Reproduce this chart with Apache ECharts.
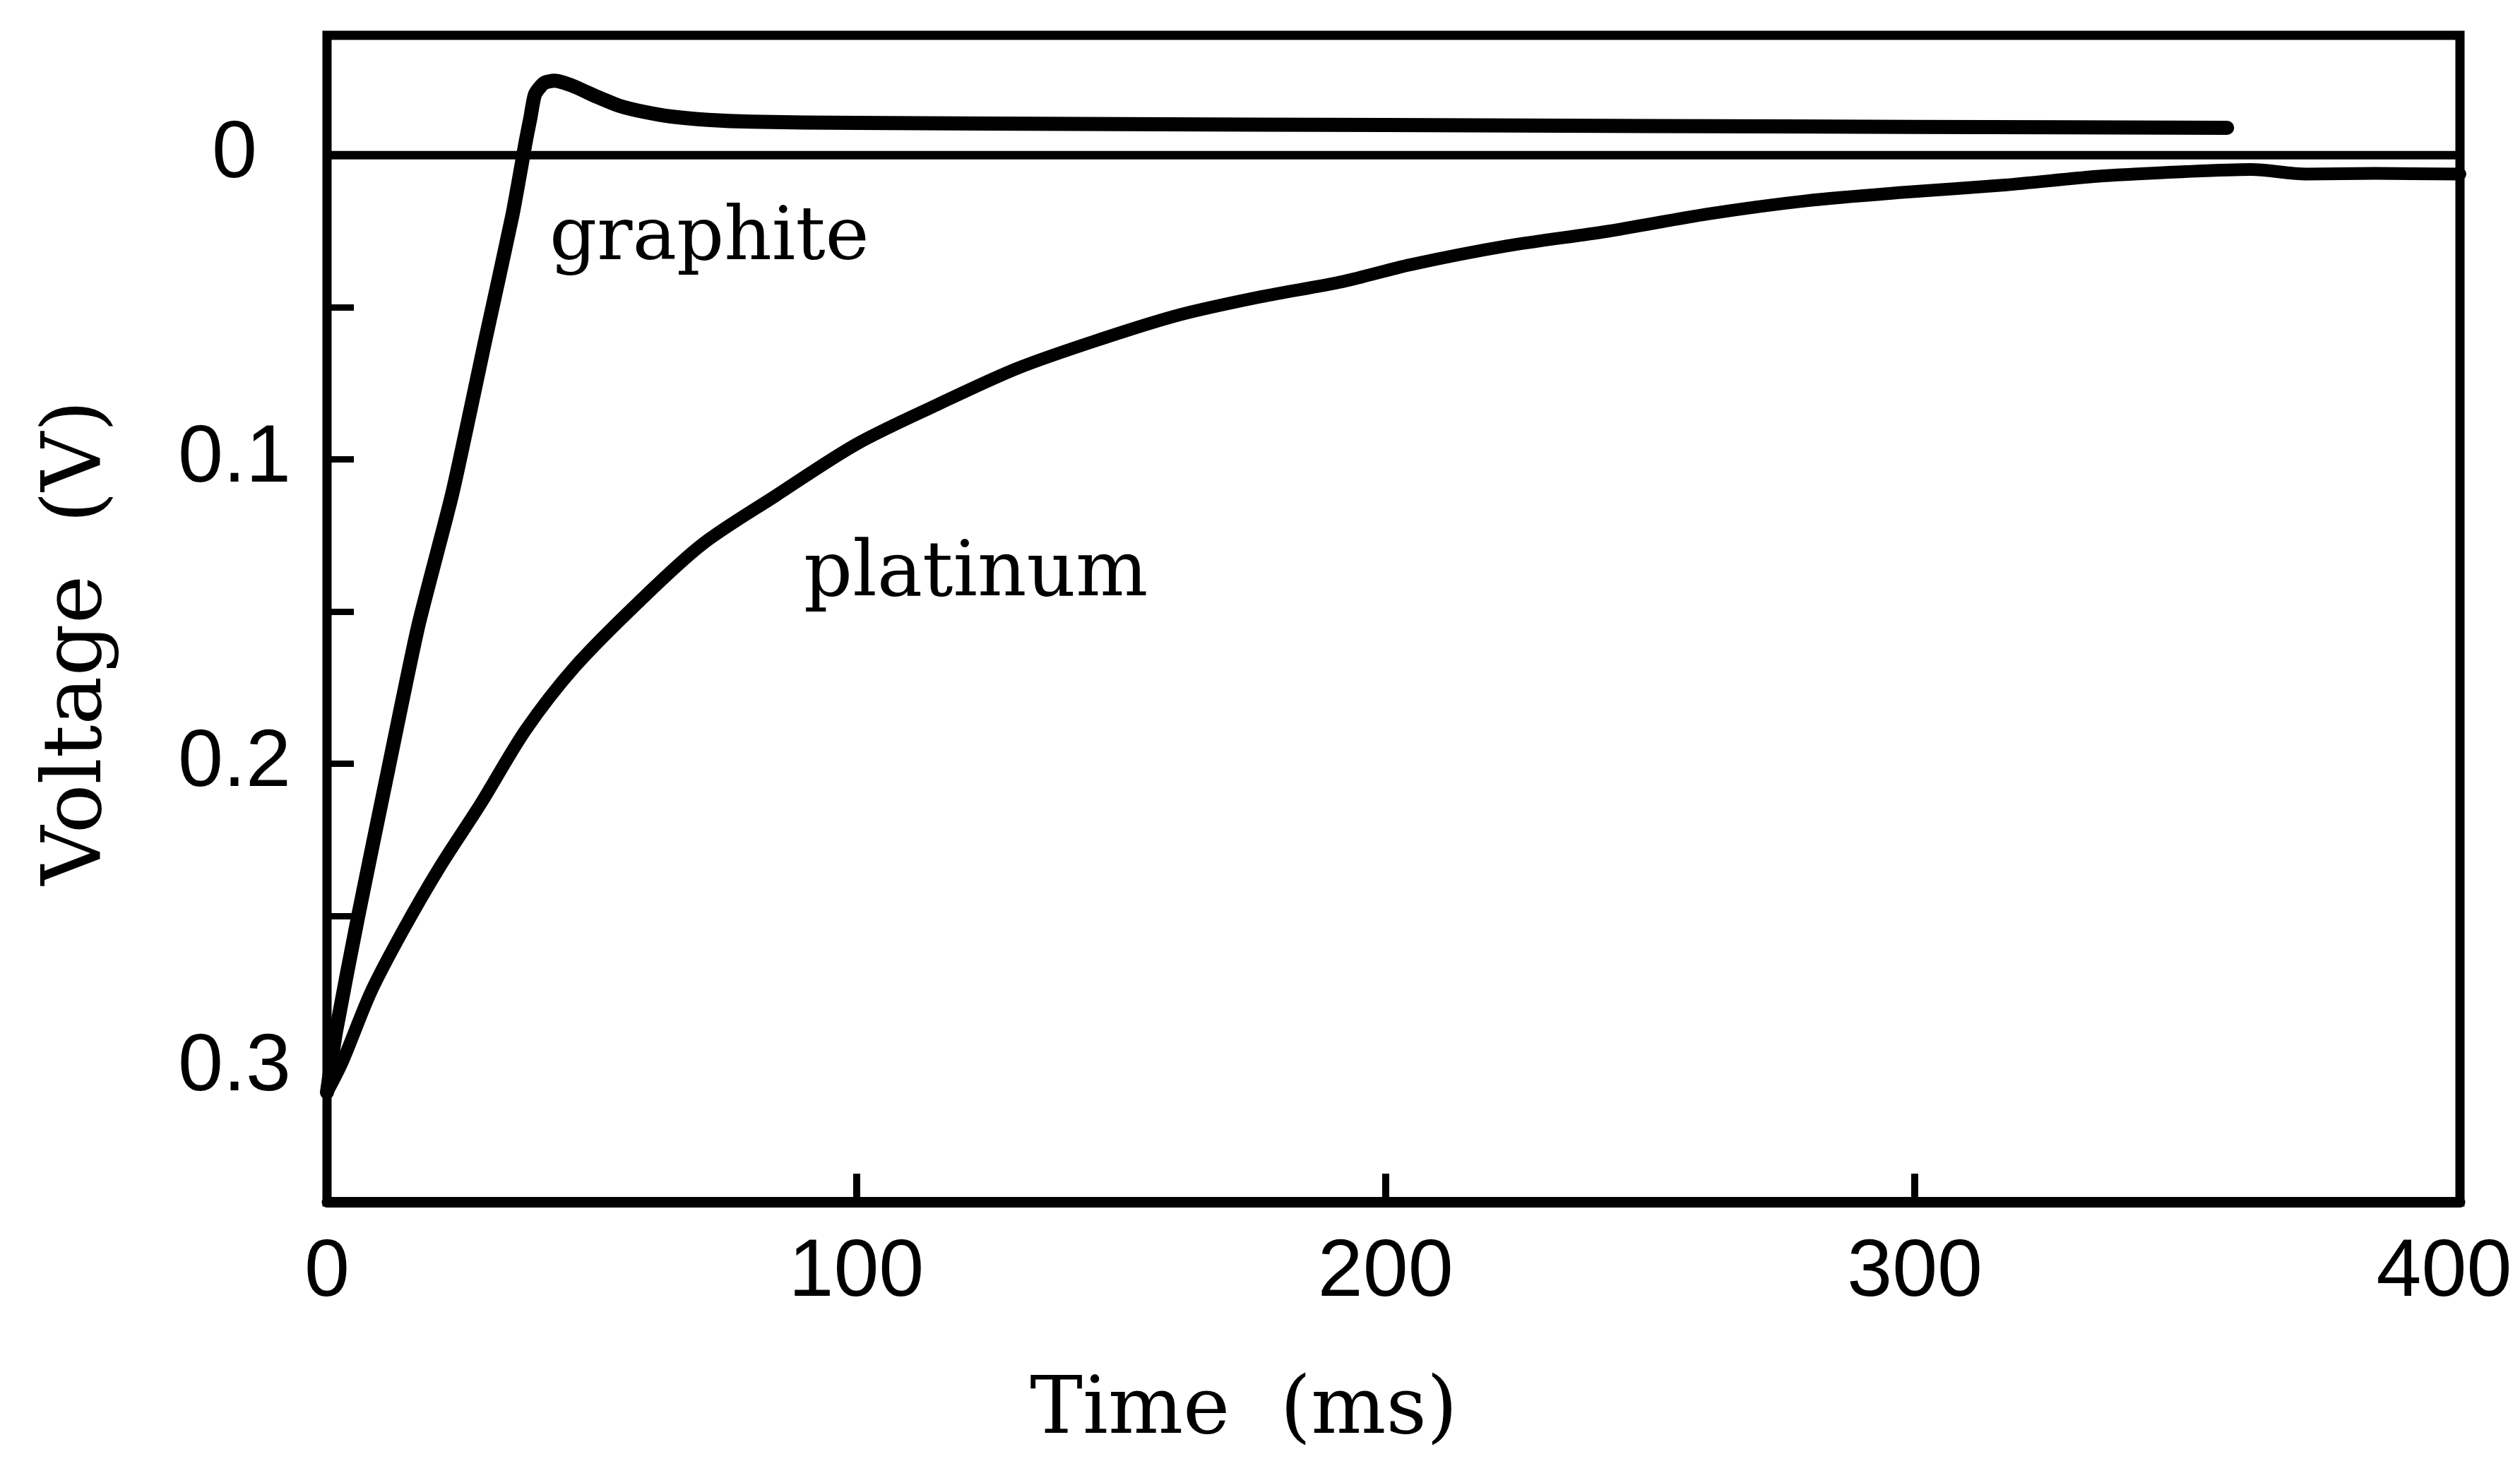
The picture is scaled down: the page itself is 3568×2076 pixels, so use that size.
<!DOCTYPE html>
<html>
<head>
<meta charset="utf-8">
<script src="https://cdn.jsdelivr.net/npm/echarts@6/dist/echarts.min.js"></script>
<style>
  html, body { margin: 0; padding: 0; background: #fff; }
  #chart { width: 3568px; height: 2076px; }
</style>
</head>
<body>
<div id="chart"></div>
<script>
// axis ticks
const timeLabels = [0, 100, 200, 300, 400];
const timeTicks = [100, 200, 300];
const voltageLabels = [0, 0.1, 0.2, 0.3];
const voltageTicks = [0.05, 0.1, 0.15, 0.2, 0.25];

// graphite electrode (ms, V)
const graphiteTime = [0, 1.7, 5.9, 11.2, 17.2, 23.7, 30, 35, 37.6, 38.4, 39.3, 41, 43, 46.4, 51, 55.3, 60, 65, 72, 80, 100, 150, 200, 250, 300, 359];
const graphiteVolt = [0.308, 0.288, 0.25, 0.205, 0.155, 0.111, 0.06, 0.02, -0.005, -0.012, -0.02, -0.0237, -0.0245, -0.0228, -0.0192, -0.0162, -0.0142, -0.0127, -0.0116, -0.011, -0.0106, -0.0102, -0.0099, -0.0096, -0.0093, -0.009];

// platinum electrode (ms, V)
const platinumTime = [0, 2.9, 8.3, 14.3, 21.3, 29.1, 37.5, 46.9, 58.8, 70.8, 84.7, 100, 115.3, 130.5, 145.9, 161, 176.5, 192, 204.7, 223, 242, 261, 279.5, 298, 317, 335.6, 351, 363.5, 374, 387, 403];
const platinumVolt = [0.308, 0.298, 0.275, 0.255, 0.234, 0.213, 0.189, 0.168, 0.147, 0.128, 0.112, 0.095, 0.082, 0.07, 0.0606, 0.0525, 0.0465, 0.0415, 0.036, 0.0298, 0.025, 0.0193, 0.015, 0.0122, 0.0098, 0.0068, 0.0054, 0.0047, 0.0062, 0.006, 0.0062];

// zero reference line
const zeroTime = [0, 403];
const zeroVolt = [0, 0];

const pairs = (xs, ys) => xs.map((x, i) => [x, ys[i]]);

const serif = '"DejaVu Serif", "Liberation Serif", serif';
const sans = '"Liberation Sans", Arial, sans-serif';

const chart = echarts.init(document.getElementById("chart"), null, { renderer: "canvas" });

chart.setOption({
  animation: false,
  backgroundColor: "#fff",
  grid: {
    left: 463, right: 85, top: 50, bottom: 374,
    show: true, borderColor: "#000", borderWidth: 13,
  },
  xAxis: {
    type: "value",
    min: 0,
    max: 403,
    axisLine: { show: true, onZero: false, lineStyle: { color: "#000", width: 15 } },
    axisTick: {
      show: true, inside: true, length: 40, customValues: timeTicks,
      lineStyle: { color: "#000", width: 10 },
    },
    axisLabel: {
      customValues: timeLabels, margin: 44, color: "#000",
      fontFamily: sans, fontSize: 115,
    },
    splitLine: { show: false },
  },
  yAxis: {
    type: "value",
    inverse: true,
    min: -0.0394,
    max: 0.344,
    axisLine: { show: true, onZero: false, lineStyle: { color: "#000", width: 12 } },
    axisTick: {
      show: true, inside: true, length: 38, customValues: voltageTicks,
      lineStyle: { color: "#000", width: 9 },
    },
    axisLabel: {
      customValues: voltageLabels, align: "center", margin: 131, color: "#000",
      fontFamily: sans, fontSize: 115,
      formatter: (v) => String(v),
    },
    splitLine: { show: false },
  },
  series: [
    {
      name: "zero", type: "line", data: pairs(zeroTime, zeroVolt),
      showSymbol: false, silent: true,
      lineStyle: { color: "#000", width: 12 },
    },
    {
      name: "graphite", type: "line", data: pairs(graphiteTime, graphiteVolt),
      showSymbol: false, smooth: 0.2,
      lineStyle: { color: "#000", width: 20, cap: "round", join: "round" },
    },
    {
      name: "platinum", type: "line", data: pairs(platinumTime, platinumVolt),
      showSymbol: false, smooth: 0.3,
      lineStyle: { color: "#000", width: 18, cap: "round", join: "round" },
    },
  ],
  graphic: [
    {
      type: "text", x: 778, y: 340,
      style: { text: "graphite", font: "105px " + serif, fill: "#000", align: "left", verticalAlign: "middle" },
    },
    {
      type: "text", x: 1138, y: 815,
      style: { text: "platinum", font: "108px " + serif, fill: "#000", align: "left", verticalAlign: "middle" },
    },
    {
      type: "text", x: 1761, y: 2000,
      style: { text: "Time  (ms)", font: "112px " + serif, fill: "#000", align: "center", verticalAlign: "middle" },
    },
    {
      type: "text", x: 112, y: 910, rotation: Math.PI / 2,
      style: { text: "Voltage  (V)", font: "116px " + serif, fill: "#000", align: "center", verticalAlign: "middle" },
    },
  ],
});
</script>
</body>
</html>
